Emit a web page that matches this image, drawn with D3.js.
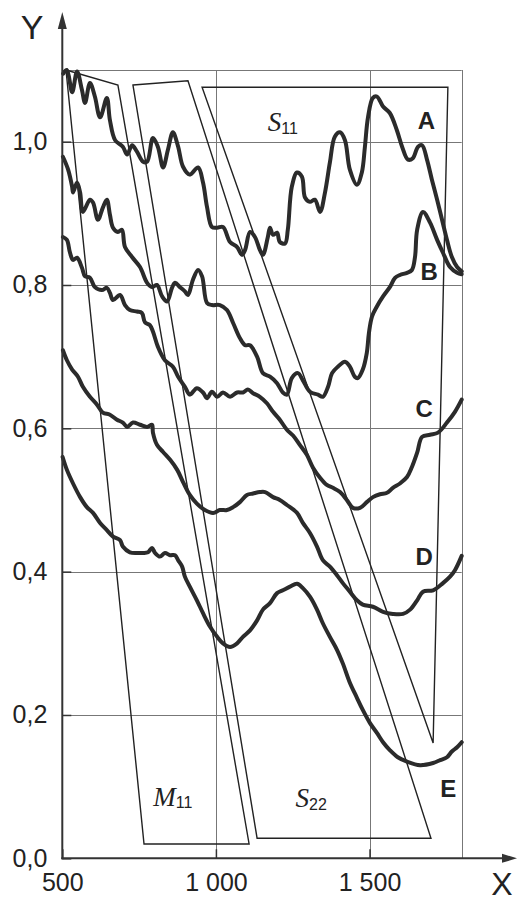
<!DOCTYPE html>
<html>
<head>
<meta charset="utf-8">
<script src="https://cdn.jsdelivr.net/npm/d3@7"></script>
<style>
  html, body { margin: 0; padding: 0; background: #fff; }
  svg { display: block; }
  text { font-family: "Liberation Sans", Arial, sans-serif; fill: #222; }
</style>
</head>
<body>
<svg width="517" height="901"></svg>
<script>
// ---- data ----
const xTicks = [500, 1000, 1500];
const yTicks = [0, 0.2, 0.4, 0.6, 0.8, 1.0];
const xGrid = [1000, 1500, 1800];
const yGrid = [0.2, 0.4, 0.6, 0.8, 1.0, 1.1];

const curveA = [[503,1.095],[515,1.100],[532,1.069],[548,1.098],[564,1.072],[574,1.054],[590,1.082],[606,1.063],
  [623,1.034],[645,1.061],[655,1.030],[672,1.002],[697,0.993],[711,0.982],[727,0.995],[743,0.986],[763,0.972],
  [776,0.972],[795,1.005],[811,0.993],[828,0.964],[844,0.989],[860,1.013],[877,0.993],[893,0.965],[915,0.954],
  [942,0.964],[958,0.943],[971,0.909],[987,0.881],[1004,0.880],[1023,0.881],[1046,0.860],[1069,0.853],[1085,0.842],
  [1095,0.849],[1111,0.874],[1127,0.867],[1143,0.849],[1153,0.842],[1169,0.867],[1176,0.880],[1186,0.870],
  [1199,0.873],[1208,0.860],[1225,0.858],[1234,0.877],[1247,0.937],[1264,0.957],[1280,0.951],[1290,0.922],
  [1306,0.916],[1322,0.919],[1339,0.902],[1355,0.929],[1371,0.971],[1387,1.007],[1404,1.013],[1420,1.002],
  [1436,0.961],[1459,0.940],[1475,0.957],[1485,0.993],[1495,1.034],[1511,1.061],[1524,1.063],[1544,1.049],
  [1566,1.040],[1589,1.016],[1606,0.993],[1625,0.975],[1641,0.977],[1658,0.993],[1671,0.995],[1687,0.975],
  [1703,0.947],[1720,0.919],[1736,0.891],[1752,0.863],[1768,0.839],[1785,0.825],[1800,0.819]];

const curveB = [[502,0.979],[519,0.961],[532,0.937],[535,0.929],[548,0.943],[558,0.929],[567,0.902],[590,0.919],
  [600,0.915],[616,0.891],[632,0.908],[645,0.919],[655,0.898],[665,0.880],[681,0.874],[694,0.877],[704,0.853],
  [727,0.839],[753,0.825],[776,0.803],[792,0.797],[808,0.800],[825,0.784],[841,0.777],[857,0.796],[867,0.803],
  [883,0.797],[899,0.791],[909,0.786],[925,0.807],[942,0.821],[955,0.812],[971,0.775],[987,0.772],[1013,0.772],
  [1036,0.765],[1056,0.747],[1078,0.726],[1095,0.716],[1111,0.716],[1134,0.700],[1153,0.677],[1176,0.672],
  [1199,0.663],[1218,0.650],[1231,0.647],[1247,0.670],[1267,0.677],[1283,0.667],[1306,0.651],[1332,0.647],
  [1348,0.644],[1365,0.658],[1378,0.677],[1397,0.686],[1420,0.693],[1436,0.686],[1452,0.672],[1462,0.670],
  [1478,0.682],[1491,0.705],[1498,0.733],[1508,0.756],[1524,0.770],[1544,0.784],[1566,0.797],[1583,0.810],
  [1599,0.814],[1622,0.817],[1638,0.821],[1648,0.839],[1655,0.877],[1674,0.902],[1697,0.887],[1720,0.863],
  [1739,0.845],[1762,0.825],[1785,0.817],[1800,0.815]];

const curveC = [[502,0.867],[515,0.863],[525,0.845],[535,0.835],[548,0.838],[564,0.824],[574,0.812],[590,0.810],
  [606,0.797],[629,0.793],[645,0.796],[655,0.789],[665,0.779],[688,0.786],[704,0.772],[720,0.765],[743,0.763],
  [759,0.761],[769,0.748],[785,0.744],[795,0.735],[811,0.714],[834,0.695],[860,0.686],[877,0.672],[899,0.658],
  [915,0.647],[938,0.656],[958,0.650],[971,0.642],[987,0.651],[1004,0.644],[1023,0.650],[1046,0.644],[1069,0.650],
  [1088,0.650],[1104,0.654],[1121,0.649],[1143,0.644],[1166,0.635],[1186,0.623],[1208,0.612],[1231,0.598],
  [1251,0.590],[1273,0.577],[1296,0.563],[1316,0.545],[1339,0.531],[1361,0.521],[1381,0.517],[1404,0.511],
  [1426,0.500],[1446,0.489],[1469,0.489],[1491,0.497],[1511,0.504],[1534,0.508],[1557,0.510],[1576,0.517],
  [1599,0.523],[1622,0.532],[1638,0.546],[1655,0.566],[1671,0.588],[1697,0.591],[1723,0.594],[1752,0.608],
  [1778,0.623],[1800,0.640]];

const curveD = [[502,0.709],[515,0.695],[532,0.682],[551,0.672],[567,0.658],[590,0.644],[613,0.633],[632,0.622],
  [655,0.619],[678,0.612],[697,0.608],[711,0.602],[730,0.608],[753,0.605],[776,0.602],[792,0.605],[795,0.594],
  [808,0.577],[828,0.567],[851,0.556],[874,0.542],[893,0.525],[915,0.507],[938,0.495],[964,0.486],[991,0.482],
  [1013,0.486],[1036,0.486],[1056,0.490],[1078,0.497],[1101,0.507],[1121,0.509],[1143,0.511],[1160,0.511],
  [1186,0.504],[1208,0.500],[1231,0.493],[1264,0.482],[1283,0.468],[1306,0.454],[1329,0.435],[1348,0.416],
  [1371,0.407],[1394,0.395],[1413,0.384],[1436,0.372],[1459,0.360],[1478,0.354],[1511,0.351],[1544,0.344],
  [1576,0.341],[1609,0.341],[1632,0.347],[1655,0.360],[1674,0.372],[1707,0.374],[1739,0.384],[1762,0.393],
  [1778,0.402],[1800,0.422]];

const curveE = [[501,0.560],[515,0.542],[535,0.523],[558,0.504],[580,0.490],[600,0.482],[623,0.468],[645,0.458],
  [665,0.449],[688,0.444],[697,0.435],[720,0.427],[743,0.426],[763,0.426],[779,0.427],[792,0.433],[802,0.426],
  [818,0.421],[834,0.426],[851,0.423],[867,0.423],[877,0.416],[890,0.407],[899,0.393],[915,0.379],[938,0.360],
  [958,0.342],[981,0.323],[1004,0.309],[1023,0.300],[1046,0.295],[1069,0.300],[1088,0.309],[1111,0.318],
  [1134,0.332],[1153,0.347],[1176,0.356],[1199,0.370],[1218,0.374],[1241,0.379],[1264,0.383],[1283,0.377],
  [1306,0.365],[1329,0.347],[1348,0.328],[1371,0.309],[1394,0.291],[1413,0.272],[1436,0.245],[1459,0.224],
  [1478,0.207],[1501,0.189],[1524,0.175],[1544,0.162],[1566,0.151],[1592,0.141],[1622,0.135],[1664,0.130],
  [1707,0.133],[1730,0.137],[1752,0.141],[1768,0.149],[1785,0.155],[1800,0.162]];

const curveNames = ["A", "B", "C", "D", "E"];
const curveLabelAt = [[1685, 1.030], [1694, 0.819], [1678, 0.628], [1678, 0.422], [1756, 0.098]];

// spectral regions drawn as outlines
const regionM11 = [[512,1.100],[681,1.079],[1108,0.020],[766,0.020]];
const regionS22 = [[730,1.079],[909,1.085],[1700,0.028],[1134,0.028]];
const regionS11 = [[955,1.076],[1755,1.076],[1707,0.161]];
const regionLabels = [
  {main: "M", sub: "11", at: [860, 0.081]},
  {main: "S", sub: "22", at: [1310, 0.079]},
  {main: "S", sub: "11", at: [1218, 1.022]}
];

// ---- chart ----
const svg = d3.select("svg");
const mLeft = 62.3, mRight = 461.7, mTop = 70, mBottom = 858.3;

const x = d3.scaleLinear().domain([500, 1800]).range([mLeft, mRight]);
const y = d3.scaleLinear().domain([0, 1.1]).range([mBottom, mTop]);

// grid
const grid = svg.append("g").attr("stroke", "#777").attr("stroke-width", 1);
grid.selectAll("line.h").data(yGrid).join("line")
  .attr("x1", mLeft).attr("x2", mRight)
  .attr("y1", d => Math.round(y(d)) + 0.5).attr("y2", d => Math.round(y(d)) + 0.5);
grid.selectAll("line.v").data(xGrid).join("line")
  .attr("y1", mTop).attr("y2", mBottom)
  .attr("x1", d => Math.round(x(d)) + 0.5).attr("x2", d => Math.round(x(d)) + 0.5);

// region outlines
const polyLine = d3.line().x(d => x(d[0])).y(d => y(d[1])).curve(d3.curveLinearClosed);
svg.append("g").selectAll("path")
  .data([regionM11, regionS22, regionS11]).join("path")
  .attr("d", polyLine)
  .attr("fill", "none").attr("stroke", "#222").attr("stroke-width", 1.4)
  .attr("stroke-linejoin", "miter");

// curves
const line = d3.line().x(d => x(d[0])).y(d => y(d[1])).curve(d3.curveCatmullRom.alpha(0.5));
svg.append("g").selectAll("path")
  .data([curveA, curveB, curveC, curveD, curveE]).join("path")
  .attr("d", line)
  .attr("fill", "none").attr("stroke", "#2b2b2b").attr("stroke-width", 4)
  .attr("stroke-linejoin", "round").attr("stroke-linecap", "round");

// axes with inward ticks
const fmtY = d => d3.format(".1f")(d).replace(".", ",");
const fmtX = d3.formatLocale({decimal: ",", thousands: " ", grouping: [3], currency: ["", ""]}).format(",");

const gy = svg.append("g").attr("transform", `translate(${mLeft},0)`)
  .call(d3.axisLeft(y).tickValues(yTicks).tickSize(-9).tickPadding(15).tickFormat(fmtY));
const gx = svg.append("g").attr("transform", `translate(0,${mBottom})`)
  .call(d3.axisBottom(x).tickValues(xTicks).tickSize(-9).tickPadding(15).tickFormat(fmtX));
[gx, gy].forEach(g => {
  g.select(".domain").remove();
  g.selectAll(".tick line").attr("stroke", "#333").attr("stroke-width", 1.5);
  g.selectAll(".tick text").attr("font-size", 25).attr("fill", "#222")
    .attr("font-family", "Liberation Sans, Arial, sans-serif");
});

// axis lines with arrows
const ax = svg.append("g").attr("stroke", "#333").attr("stroke-width", 2);
ax.append("line").attr("x1", mLeft).attr("x2", mLeft).attr("y1", mBottom + 1).attr("y2", 24);
ax.append("line").attr("x1", mLeft - 1).attr("x2", 506).attr("y1", mBottom).attr("y2", mBottom);
svg.append("path").attr("fill", "#333")
  .attr("d", `M${mLeft},12 L${mLeft - 4.5},29 L${mLeft + 4.5},29 Z`);
svg.append("path").attr("fill", "#333")
  .attr("d", `M517,${mBottom} L502,${mBottom - 4.5} L502,${mBottom + 4.5} Z`);

svg.append("text").attr("x", 32).attr("y", 39).attr("text-anchor", "middle")
  .attr("font-size", 34).text("Y");
svg.append("text").attr("x", 502).attr("y", 895).attr("text-anchor", "middle")
  .attr("font-size", 32).text("X");

// curve letters
svg.append("g").selectAll("text").data(curveNames).join("text")
  .attr("x", (d, i) => x(curveLabelAt[i][0]))
  .attr("y", (d, i) => y(curveLabelAt[i][1]))
  .attr("dy", "0.36em").attr("text-anchor", "middle")
  .attr("font-size", 24).attr("font-weight", "bold").attr("fill", "#1a1a1a")
  .text(d => d);

// region labels: italic serif letter with sans subscript
const rl = svg.append("g").selectAll("text").data(regionLabels).join("text")
  .attr("x", d => x(d.at[0])).attr("y", d => y(d.at[1]))
  .attr("dy", "0.35em").attr("text-anchor", "middle");
rl.append("tspan").attr("font-family", "Liberation Serif, Times New Roman, serif")
  .attr("font-style", "italic").attr("font-size", 27).text(d => d.main);
rl.append("tspan").attr("font-size", 16).attr("dy", "0.15em").text(d => d.sub);
</script>
</body>
</html>
